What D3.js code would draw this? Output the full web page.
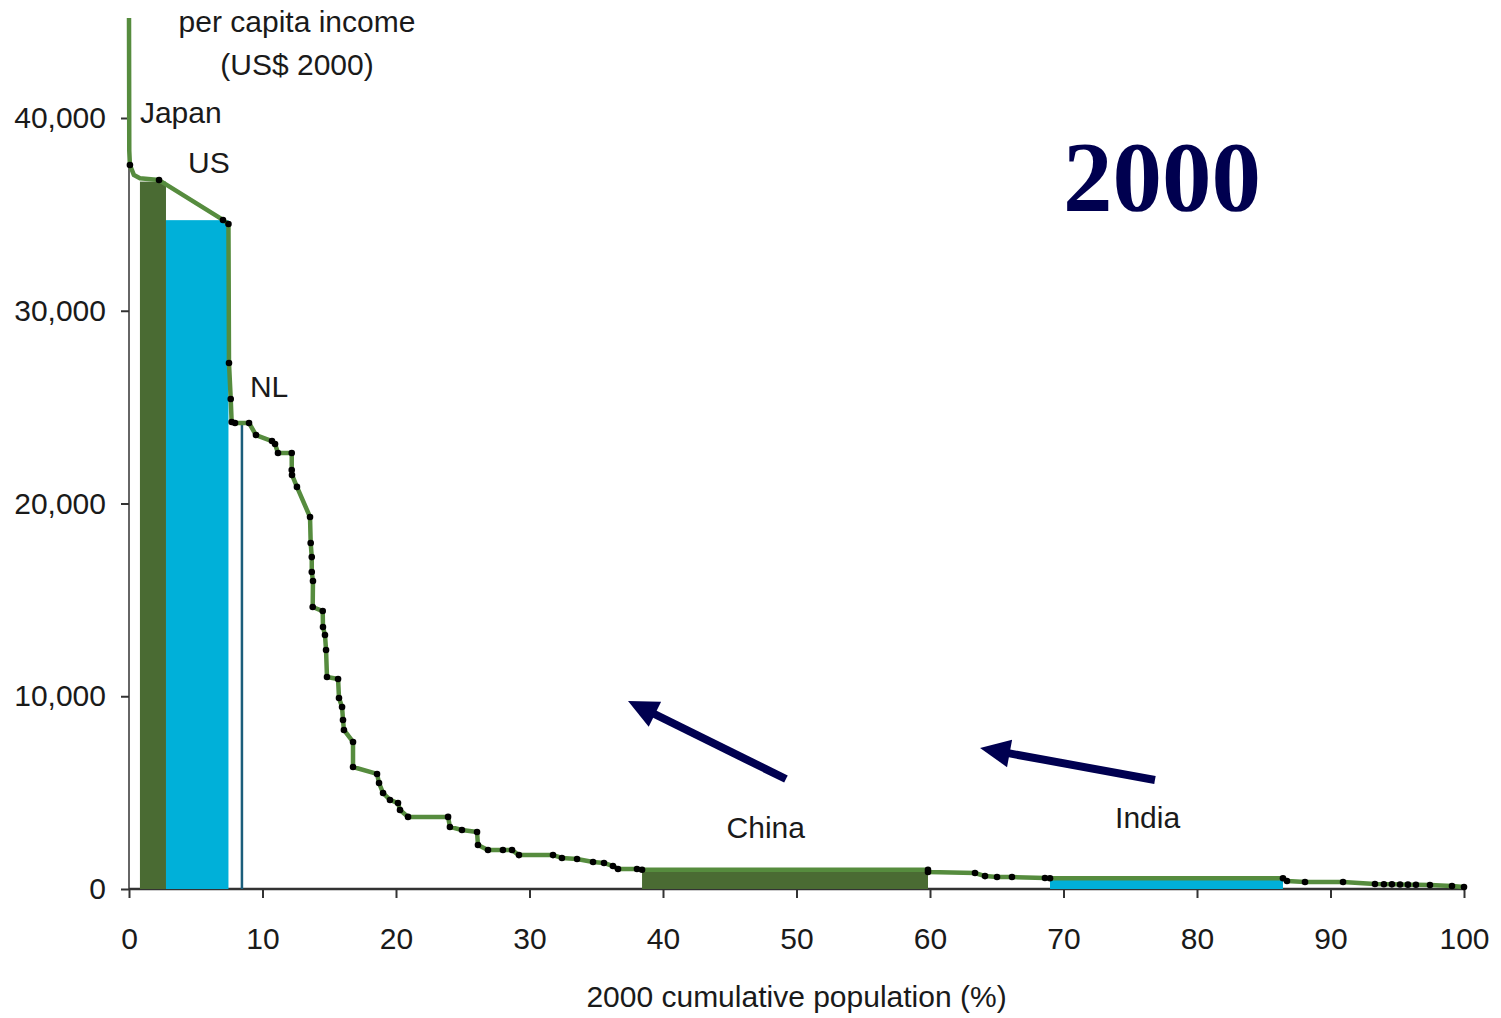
<!DOCTYPE html>
<html>
<head>
<meta charset="utf-8">
<script src="https://cdn.jsdelivr.net/npm/d3@7"></script>
<style>
  html, body { margin: 0; padding: 0; background: #ffffff; }
  svg { display: block; }
  text { font-family: "Liberation Sans", Arial, sans-serif; }
</style>
</head>
<body>
<script>
// ---------- DATA ----------
// cumulative population (%) and per capita income (US$ 2000) along the curve
const popPct = [0.00, 0.02, 0.07, 0.37, 0.82, 2.25, 7.04, 7.45, 7.49, 7.62,
  7.69, 7.94, 8.99, 9.51, 10.71, 10.94, 11.16, 12.19, 12.19, 12.21,
  12.58, 13.56, 13.61, 13.69, 13.69, 13.78, 13.76, 14.51, 14.53, 14.68,
  14.76, 14.83, 15.66, 15.73, 15.96, 16.03, 16.10, 16.78, 16.78, 18.58,
  18.73, 19.03, 19.55, 20.15, 20.30, 20.90, 23.90, 24.04, 24.94, 26.07,
  26.14, 26.89, 28.01, 28.69, 29.21, 31.76, 32.43, 33.56, 34.76, 35.58,
  36.25, 36.63, 38.05, 38.43, 59.85, 59.85, 63.37, 64.12, 65.02, 66.14,
  68.61, 68.99, 86.44, 86.74, 88.09, 90.94, 93.33, 94.0, 94.6, 95.21,
  95.8, 96.4, 97.45, 99.10, 100.0];
const income = [45190, 38300, 37560, 37040, 36880, 36780, 34710, 34500, 27290, 25420,
  24230, 24180, 24180, 23550, 23240, 23090, 22620, 22620, 21740, 21480,
  20860, 19300, 17950, 17220, 16450, 15980, 14630, 14420, 13590, 13180,
  12400, 11000, 10895, 9910, 9440, 8770, 8250, 7630, 6330, 5970,
  5500, 4980, 4620, 4460, 4100, 3740, 3740, 3220, 3060, 2960,
  2280, 2020, 2020, 2020, 1760, 1760, 1610, 1560, 1400, 1350,
  1190, 1040, 1040, 1000, 1000, 880, 830, 670, 620, 620,
  570, 560, 560, 415, 360, 360, 260, 250, 240, 230,
  225, 218, 210, 155, 100];
// curve vertices that carry no country marker
const noDot = [0, 1, 3, 4];

// highlighted countries (population band and income)
const barNames  = ["Japan", "US", "China", "India"];
const barStart  = [0.82, 2.77, 38.43, 68.99];
const barEnd    = [2.77, 7.45, 59.85, 86.44];
const barIncome = [36700, 34700, 1000, 560];
const barColor  = ["#4a6b33", "#00b0d9", "#4a6b33", "#00b0d9"];

// Netherlands marker
const nlPop = 8.46, nlIncome = 24180;

// labels: [text, pop, income, anchor]
const labelText   = ["Japan", "US", "NL", "China", "India"];
const labelPop    = [0.82, 4.42, 9.06, 47.7, 76.3];
const labelIncome = [39740, 37150, 25525, 2650, 3165];
const labelAnchor = ["start", "start", "start", "middle", "middle"];

// arrows: tail -> tip
const arrowTailPop = [49.21, 76.85], arrowTailInc = [5707, 5655];
const arrowTipPop  = [37.38, 63.75], arrowTipInc  = [9753, 7315];

const xTicks = [0, 10, 20, 30, 40, 50, 60, 70, 80, 90, 100];
const yTicks = [0, 10000, 20000, 30000, 40000];
const xTitle = "2000 cumulative population (%)";
const yTitle = ["per capita income", "(US$ 2000)"];
const yearTitle = "2000";

// ---------- LAYOUT ----------
const W = 1501, H = 1018;
const x = d3.scaleLinear().domain([0, 100]).range([129, 1464]);
const y = d3.scaleLinear().domain([0, 40000]).range([889, 118]);

const svg = d3.select("body").append("svg").attr("width", W).attr("height", H);
svg.append("rect").attr("width", W).attr("height", H).attr("fill", "#ffffff");

const ink = "#1a1a1a";

// y axis line (under the curve)
svg.append("line")
  .attr("x1", x(0)).attr("x2", x(0))
  .attr("y1", y(0)).attr("y2", y(45000))
  .attr("stroke", "#666").attr("stroke-width", 2);

// Y axis
const yAxis = svg.append("g")
  .attr("transform", `translate(${x(0)},0)`)
  .call(d3.axisLeft(y).tickValues(yTicks).tickFormat(d3.format(",")).tickSize(8).tickPadding(15));
yAxis.select(".domain").remove();
yAxis.selectAll("line").attr("stroke", "#333").attr("stroke-width", 2);
yAxis.selectAll("text").attr("font-size", 30).attr("fill", ink)
  .style("font-family", "'Liberation Sans', Arial, sans-serif");

// X axis
const xAxis = svg.append("g")
  .attr("transform", `translate(0,${y(0)})`)
  .call(d3.axisBottom(x).tickValues(xTicks).tickFormat(d3.format("d")).tickSize(9).tickPadding(30));
xAxis.select(".domain").attr("stroke", "#333").attr("stroke-width", 2.5)
  .attr("d", `M${x(0)},0H${x(100)}`);
xAxis.selectAll("line").attr("stroke", "#333").attr("stroke-width", 2);
xAxis.selectAll("text").attr("font-size", 30).attr("fill", ink)
  .style("font-family", "'Liberation Sans', Arial, sans-serif");

// Bars
svg.append("g").selectAll("rect")
  .data(barNames.map((n, i) => ({ n, s: barStart[i], e: barEnd[i], v: barIncome[i], c: barColor[i] })))
  .join("rect")
  .attr("x", d => x(d.s))
  .attr("width", d => x(d.e) - x(d.s))
  .attr("y", d => y(d.v))
  .attr("height", d => y(0) - y(d.v))
  .attr("fill", d => d.c);

// NL line
svg.append("line")
  .attr("x1", x(nlPop)).attr("x2", x(nlPop))
  .attr("y1", y(0)).attr("y2", y(nlIncome))
  .attr("stroke", "#1b5e7b").attr("stroke-width", 2.5);

// Curve
const pts = popPct.map((p, i) => ({ p, v: income[i], i }));
svg.append("path")
  .datum(pts)
  .attr("d", d3.line().x(d => x(d.p)).y(d => y(d.v)).curve(d3.curveLinear))
  .attr("fill", "none")
  .attr("stroke", "#568c3e")
  .attr("stroke-width", 4.5)
  .attr("stroke-linejoin", "round");

svg.append("g").selectAll("circle")
  .data(pts.filter(d => !noDot.includes(d.i)))
  .join("circle")
  .attr("cx", d => x(d.p)).attr("cy", d => y(d.v))
  .attr("r", 3.3).attr("fill", "#000");

// Labels
labelText.forEach((t, i) => {
  svg.append("text")
    .attr("x", x(labelPop[i])).attr("y", y(labelIncome[i]))
    .attr("text-anchor", labelAnchor[i])
    .attr("font-size", 30).attr("fill", ink)
    .text(t);
});

// Axis titles
svg.append("text").attr("x", 297).attr("y", 32).attr("text-anchor", "middle")
  .attr("font-size", 30).attr("fill", ink).text(yTitle[0]);
svg.append("text").attr("x", 297).attr("y", 75).attr("text-anchor", "middle")
  .attr("font-size", 30).attr("fill", ink).text(yTitle[1]);
svg.append("text").attr("x", (x(0) + x(100)) / 2).attr("y", 1007).attr("text-anchor", "middle")
  .attr("font-size", 30).attr("fill", ink).text(xTitle);

// Year title
svg.append("text").attr("x", 1162).attr("y", 210).attr("text-anchor", "middle")
  .attr("font-size", 99).attr("font-weight", "bold").attr("fill", "#00004f")
  .style("font-family", "'Liberation Serif', 'Times New Roman', serif")
  .text(yearTitle);

// Arrows
const navy = "#000050";
arrowTailPop.forEach((_, i) => {
  const x0 = x(arrowTailPop[i]), y0 = y(arrowTailInc[i]);
  const x1 = x(arrowTipPop[i]), y1 = y(arrowTipInc[i]);
  const dx = x1 - x0, dy = y1 - y0, L = Math.hypot(dx, dy);
  const ux = dx / L, uy = dy / L, nx = -uy, ny = ux;
  const headL = 30, headW = 14;
  const bx = x1 - ux * headL, by = y1 - uy * headL;
  svg.append("line")
    .attr("x1", x0).attr("y1", y0).attr("x2", bx + ux * 4).attr("y2", by + uy * 4)
    .attr("stroke", navy).attr("stroke-width", 8);
  svg.append("polygon")
    .attr("points", [[x1, y1], [bx + nx * headW, by + ny * headW], [bx - nx * headW, by - ny * headW]]
      .map(p => p.join(",")).join(" "))
    .attr("fill", navy);
});
</script>
</body>
</html>
